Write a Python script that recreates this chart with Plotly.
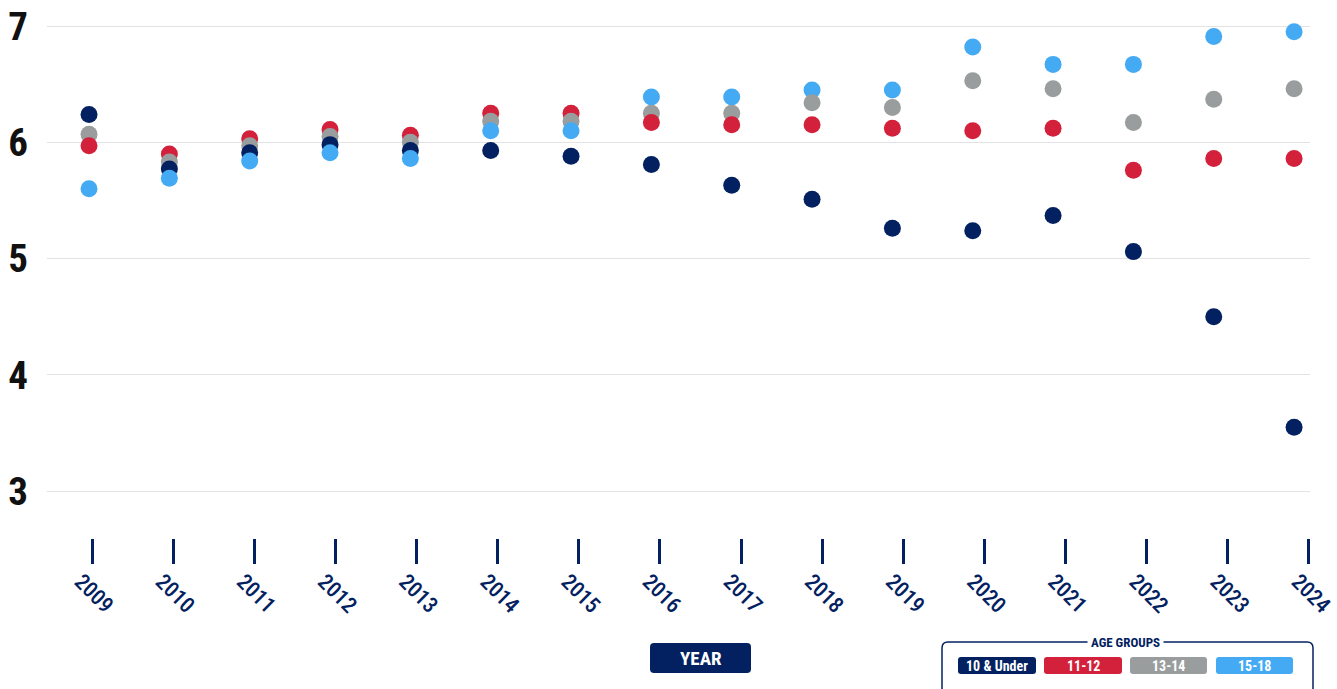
import plotly.graph_objects as go

# ---------------- data ----------------
years = [2009, 2010, 2011, 2012, 2013, 2014, 2015, 2016, 2017, 2018, 2019, 2020, 2021, 2022, 2023, 2024]
year_labels = [str(y) for y in years]
series_names = ["10 & Under", "11-12", "13-14", "15-18"]
under_10 = [6.24, 5.77, 5.91, 5.98, 5.93, 5.93, 5.88, 5.81, 5.63, 5.51, 5.26, 5.24, 5.37, 5.06, 4.50, 3.55]
age_11_12 = [5.97, 5.90, 6.03, 6.11, 6.06, 6.25, 6.25, 6.17, 6.15, 6.15, 6.12, 6.10, 6.12, 5.76, 5.86, 5.86]
age_13_14 = [6.07, 5.83, 5.97, 6.05, 6.00, 6.18, 6.18, 6.25, 6.25, 6.34, 6.30, 6.53, 6.46, 6.17, 6.37, 6.46]
age_15_18 = [5.60, 5.69, 5.84, 5.91, 5.86, 6.10, 6.10, 6.39, 6.39, 6.45, 6.45, 6.82, 6.67, 6.67, 6.91, 6.95]
y_ticks = [3, 4, 5, 6, 7]

NAVY = "#032160"
RED = "#d4213b"
GRAY = "#999d9d"
LBLUE = "#44aaf3"
colors = [NAVY, RED, GRAY, LBLUE]
series_values = [under_10, age_11_12, age_13_14, age_15_18]

FONT = "Roboto Condensed, Open Sans Condensed, sans-serif"

W, H = 1337, 689
ML, MR, MT, MB = 47, 27, 10, 151
PW = W - ML - MR
PH = H - MT - MB


def px(x):
    return (x - ML) / PW


def py(y):
    return (H - MB - y) / PH


def rrect(x0, y0, x1, y1, r):
    rx = r / PW
    ry = r / PH
    a, b, c, d = px(x0), px(x1), py(y0), py(y1)
    return (f"M{a+rx},{c} L{b-rx},{c} Q{b},{c} {b},{c-ry} L{b},{d+ry} Q{b},{d} {b-rx},{d} "
            f"L{a+rx},{d} Q{a},{d} {a},{d+ry} L{a},{c-ry} Q{a},{c} {a+rx},{c} Z")


# combine points so the lower point of each year is drawn on top
pts = []
for vals, col in zip(series_values, colors):
    for yr, v in zip(years, vals):
        pts.append((v, yr, col))
pts.sort(key=lambda t: -t[0])

fig = go.Figure()
fig.add_trace(go.Scatter(
    x=[p[1] for p in pts], y=[p[0] for p in pts], mode="markers",
    marker=dict(size=17, color=[p[2] for p in pts], line=dict(width=0)),
    showlegend=False, hoverinfo="x+y", xaxis="x", yaxis="y",
))
# invisible trace carrying the year tick axis
fig.add_trace(go.Scatter(
    x=years, y=[5] * len(years), mode="markers", marker=dict(opacity=0),
    showlegend=False, hoverinfo="skip", xaxis="x2", yaxis="y",
))

y_top = 5 + (258.6 - MT) / 116.3
y_bot = 5 + (258.6 - (H - MB)) / 116.3

shapes = []
shapes.append(dict(type="path", xref="paper", yref="paper", path=rrect(942, 642, 1313, 705, 6),
                   line=dict(color=NAVY, width=1.5), fillcolor="rgba(0,0,0,0)", layer="above"))
pill_x = [(958, 1036), (1044, 1122), (1130, 1207), (1216, 1293)]
for (a, b), col in zip(pill_x, colors):
    shapes.append(dict(type="path", xref="paper", yref="paper", path=rrect(a, 657, b, 674, 3),
                       line=dict(width=0), fillcolor=col, layer="above"))
shapes.append(dict(type="path", xref="paper", yref="paper", path=rrect(650, 643, 751, 673, 4),
                   line=dict(width=0), fillcolor=NAVY, layer="above"))

annotations = []
annotations.append(dict(x=px(700.5), y=py(658), xref="paper", yref="paper", text="YEAR", showarrow=False,
                        font=dict(family=FONT, size=19, color="white", weight="bold"),
                        xanchor="center", yanchor="middle"))
annotations.append(dict(x=px(1125), y=py(642), xref="paper", yref="paper", text="AGE GROUPS", showarrow=False,
                        font=dict(family=FONT, size=13, color=NAVY, weight="bold"), bgcolor="white",
                        borderpad=3, xanchor="center", yanchor="middle"))
for (a, b), name in zip(pill_x, series_names):
    annotations.append(dict(x=px((a + b) / 2), y=py(665.5), xref="paper", yref="paper", text=name,
                            showarrow=False, font=dict(family=FONT, size=14, color="white", weight="bold"),
                            xanchor="center", yanchor="middle"))

fig.update_layout(
    width=W, height=H, margin=dict(l=ML, r=MR, t=MT, b=MB, autoexpand=False),
    paper_bgcolor="white", plot_bgcolor="white",
    xaxis=dict(range=[2008.477, 2024.198], showgrid=False, zeroline=False, showticklabels=False,
               showline=False, ticks="", automargin=False),
    xaxis2=dict(range=[2008.4453, 2024.013], overlaying="x", side="bottom", anchor="y",
                tickmode="array", tickvals=years, ticktext=year_labels,
                showgrid=False, zeroline=False, showline=False, automargin=False,
                ticks="outside", ticklen=25, tickwidth=3, tickcolor=NAVY,
                tickangle=45, ticklabelshift=-11, ticklabelstandoff=-4,
                tickfont=dict(family=FONT, size=22, color=NAVY, weight=500)),
    yaxis=dict(range=[y_bot, y_top], tickmode="array", tickvals=y_ticks, ticktext=[str(v) for v in y_ticks],
               showgrid=True, gridcolor="#e3e3e3", gridwidth=1, zeroline=False, showline=False,
               ticks="", ticklabelstandoff=18, automargin=False,
               tickfont=dict(family=FONT, size=39, color="#111111", weight="bold")),
    shapes=shapes, annotations=annotations, showlegend=False,
)

fig.write_html("out.html")
